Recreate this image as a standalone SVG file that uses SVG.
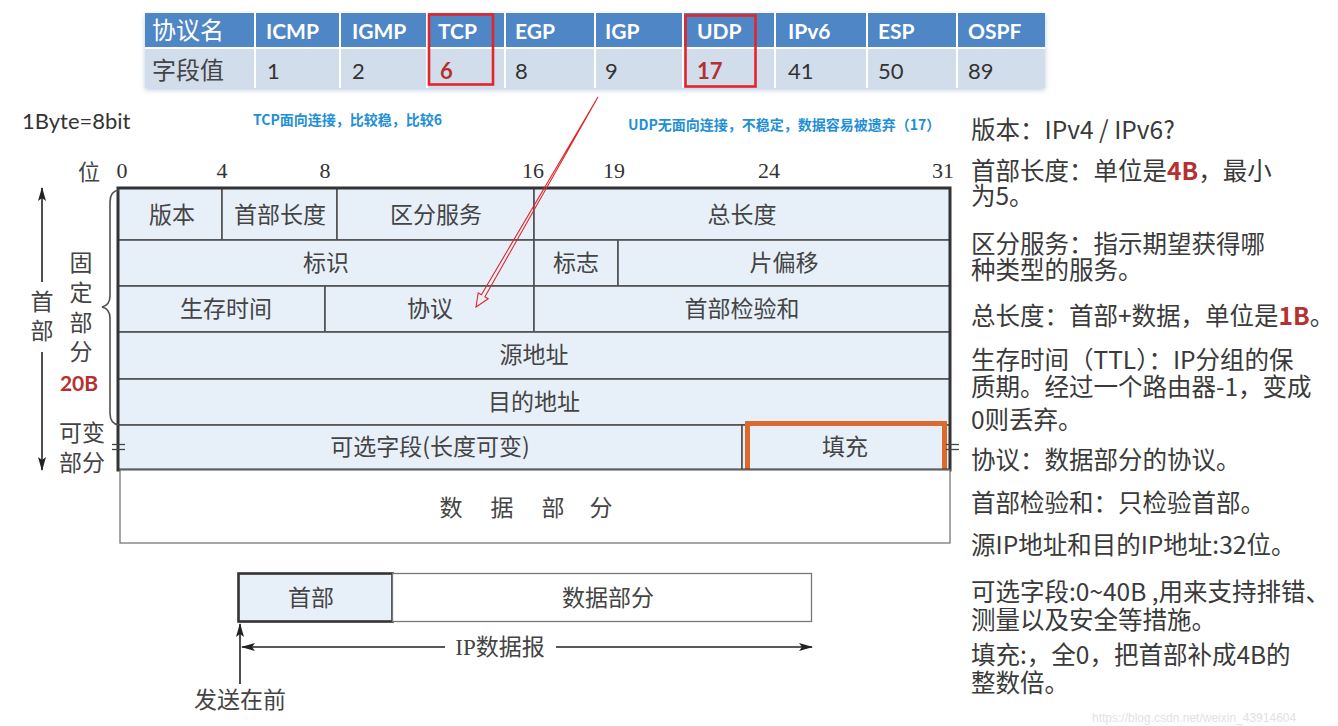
<svg xmlns="http://www.w3.org/2000/svg" width="1338" height="726" viewBox="0 0 1338 726">
<style>
.cjk{font-family:"Noto Sans CJK SC","Noto Sans",sans-serif;}
.cell{font-family:"Noto Sans CJK SC",sans-serif;font-size:23px;fill:#444;text-anchor:middle;}
.num{font-family:"Liberation Serif",serif;font-size:22px;fill:#333;text-anchor:middle;}
.th{font-family:Lato,"Liberation Sans",sans-serif;font-size:21px;font-weight:bold;fill:#fff;}
.td{font-family:Lato,"Liberation Sans",sans-serif;font-size:22px;fill:#333;}
.red{fill:#b5302e;font-weight:bold;}
.note{font-family:"Noto Sans CJK SC",sans-serif;font-size:24.5px;fill:#3a3a3a;}
.blue{font-family:"Noto Sans CJK SC",sans-serif;font-size:14px;font-weight:bold;fill:#1f8fd6;}
.fld{fill:#e7f0f9;stroke:#505050;stroke-width:1.6;}
.ln{stroke:#505050;stroke-width:1.6;fill:none;}
.arr{stroke:#222;stroke-width:1.6;fill:none;}
.lbl{font-family:"Noto Sans CJK SC",sans-serif;font-size:23px;fill:#444;text-anchor:middle;}
</style>
<defs>
<marker id="ah" viewBox="0 0 14 8" refX="13" refY="4" markerWidth="14" markerHeight="8" markerUnits="userSpaceOnUse" orient="auto">
<path d="M0,0 L14,4 L0,8 L3,4 z" fill="#222"/>
</marker>
<filter id="sh" x="-5%" y="-20%" width="110%" height="150%">
<feDropShadow dx="0" dy="2" stdDeviation="2.5" flood-color="#7a9cc8" flood-opacity="0.5"/>
</filter>
</defs>
<rect width="1338" height="726" fill="#fff"/>

<!-- protocol table -->
<g id="proto-table">
<rect x="145" y="13" width="900" height="75" fill="#d2ddec" filter="url(#sh)"/>
<rect x="145" y="13" width="900" height="35" fill="#4f86c6"/>
<g stroke="#fff" stroke-width="2">
<line x1="145" y1="48" x2="1045" y2="48"/>
<line x1="255" y1="13" x2="255" y2="88"/>
<line x1="340" y1="13" x2="340" y2="88"/>
<line x1="427" y1="13" x2="427" y2="88"/>
<line x1="505" y1="13" x2="505" y2="88"/>
<line x1="595" y1="13" x2="595" y2="88"/>
<line x1="683" y1="13" x2="683" y2="88"/>
<line x1="775" y1="13" x2="775" y2="88"/>
<line x1="867" y1="13" x2="867" y2="88"/>
<line x1="957" y1="13" x2="957" y2="88"/>
</g>
<text x="152" y="39" class="cjk" font-size="24" fill="#fff">协议名</text>
<text x="266" y="39" class="th">ICMP</text>
<text x="352" y="39" class="th">IGMP</text>
<text x="438" y="39" class="th">TCP</text>
<text x="515" y="39" class="th">EGP</text>
<text x="605" y="39" class="th">IGP</text>
<text x="697" y="39" class="th">UDP</text>
<text x="788" y="39" class="th">IPv6</text>
<text x="878" y="39" class="th">ESP</text>
<text x="968" y="39" class="th">OSPF</text>
<text x="152" y="79" class="cjk" font-size="24" fill="#444">字段值</text>
<text x="267" y="79" class="td">1</text>
<text x="352" y="79" class="td">2</text>
<text x="440" y="79" class="td red">6</text>
<text x="515" y="79" class="td">8</text>
<text x="605" y="79" class="td">9</text>
<text x="697" y="79" class="td red">17</text>
<text x="788" y="79" class="td">41</text>
<text x="878" y="79" class="td">50</text>
<text x="968" y="79" class="td">89</text>
<rect x="429" y="14.5" width="64" height="70" fill="none" stroke="#e0262b" stroke-width="2.6"/>
<rect x="685.5" y="15.5" width="70" height="71" fill="none" stroke="#e0262b" stroke-width="2.6"/>
</g>

<!-- annotations -->
<g id="annotations">
<text x="22" y="129" font-family="Lato,'Liberation Sans',sans-serif" font-size="22" fill="#333">1Byte=8bit</text>
<text x="253" y="125" class="blue">TCP面向连接，比较稳，比较6</text>
<text x="628" y="130" class="blue">UDP无面向连接，不稳定，数据容易被遗弃（17）</text>
</g>

<!-- bit ruler -->
<g id="bit-ruler">
<text x="89" y="180" class="cjk" font-size="22" fill="#444" text-anchor="middle">位</text>
<text x="122" y="178" class="num">0</text>
<text x="222" y="178" class="num">4</text>
<text x="325" y="178" class="num">8</text>
<text x="533" y="178" class="num">16</text>
<text x="614" y="178" class="num">19</text>
<text x="769" y="178" class="num">24</text>
<text x="943" y="178" class="num">31</text>
</g>

<!-- header fields -->
<g id="field-version"><rect x="118" y="188" width="104" height="52" class="fld"/><text x="172" y="223" class="cell">版本</text></g>
<g id="field-ihl"><rect x="222" y="188" width="115" height="52" class="fld"/><text x="280" y="223" class="cell">首部长度</text></g>
<g id="field-ds"><rect x="337" y="188" width="197" height="52" class="fld"/><text x="436" y="223" class="cell">区分服务</text></g>
<g id="field-total-length"><rect x="534" y="188" width="416" height="52" class="fld"/><text x="742" y="223" class="cell">总长度</text></g>
<g id="field-id"><rect x="118" y="240" width="416" height="46" class="fld"/><text x="326" y="271" class="cell">标识</text></g>
<g id="field-flags"><rect x="534" y="240" width="84" height="46" class="fld"/><text x="576" y="271" class="cell">标志</text></g>
<g id="field-offset"><rect x="618" y="240" width="332" height="46" class="fld"/><text x="784" y="271" class="cell">片偏移</text></g>
<g id="field-ttl"><rect x="118" y="286" width="207" height="46" class="fld"/><text x="226" y="317" class="cell">生存时间</text></g>
<g id="field-protocol"><rect x="325" y="286" width="209" height="46" class="fld"/><text x="430" y="317" class="cell">协议</text></g>
<g id="field-checksum"><rect x="534" y="286" width="416" height="46" class="fld"/><text x="742" y="317" class="cell">首部检验和</text></g>
<g id="field-src"><rect x="118" y="332" width="832" height="47" class="fld"/><text x="534" y="363" class="cell">源地址</text></g>
<g id="field-dst"><rect x="118" y="379" width="832" height="46" class="fld"/><text x="534" y="410" class="cell">目的地址</text></g>
<g id="field-options"><rect x="118" y="425" width="624" height="45" class="fld"/><text x="430" y="455" class="cell">可选字段(长度可变)</text></g>
<g id="field-padding"><rect x="742" y="425" width="208" height="45" class="fld"/><text x="845" y="455" class="cell">填充</text>
<rect x="747.5" y="423.5" width="197" height="52" fill="none" stroke="#dc6a2c" stroke-width="5"/></g>
<g id="header-border"><rect x="118" y="188" width="832" height="282" fill="none" stroke="#333" stroke-width="3"/>
<g stroke="#444" stroke-width="1.3"><line x1="112" y1="444.5" x2="125" y2="444.5"/><line x1="112" y1="449.5" x2="125" y2="449.5"/><line x1="946" y1="444.5" x2="959" y2="444.5"/><line x1="946" y1="449.5" x2="959" y2="449.5"/></g></g>
<g id="data-part"><rect x="120" y="470" width="830" height="73" fill="#fff" stroke="#777" stroke-width="1.3"/>
<text y="516" class="cell" font-size="22"><tspan x="451">数</tspan><tspan x="502">据</tspan><tspan x="553">部</tspan><tspan x="601">分</tspan></text></g>

<!-- left labels -->
<g id="left-labels">
<path d="M119,190 Q110,191 110,202 L110,296 Q110,305 102,307 Q110,309 110,318 L110,413 Q110,424 119,425" class="ln"/>
<text class="lbl"><tspan x="42" y="310">首</tspan><tspan x="42" y="339">部</tspan></text>
<text class="lbl"><tspan x="81" y="271">固</tspan><tspan x="81" y="301">定</tspan><tspan x="81" y="331">部</tspan><tspan x="81" y="360">分</tspan></text>
<text x="79" y="391" font-family="Lato,'Liberation Sans',sans-serif" font-size="21" font-weight="bold" fill="#b5302e" text-anchor="middle">20B</text>
<text class="lbl"><tspan x="82" y="441">可变</tspan><tspan x="82" y="471">部分</tspan></text>
</g>

<!-- datagram overview -->
<g id="dgram-header"><rect x="238.5" y="573.5" width="154" height="48" fill="#e7f0f9" stroke="#333" stroke-width="2.6"/><text x="311" y="606" class="cell">首部</text></g>
<g id="dgram-data"><rect x="392.5" y="573.5" width="419" height="48" fill="#fff" stroke="#777" stroke-width="1.3"/><text x="608" y="606" class="cell">数据部分</text></g>
<g id="dgram-label"><text x="500" y="655" font-family="'Liberation Serif','Noto Sans CJK SC',serif" font-size="23" fill="#444" text-anchor="middle">IP<tspan font-family="'Noto Sans CJK SC',sans-serif">数据报</tspan></text></g>
<g id="send-first"><text x="240" y="708" class="cjk" font-size="23" fill="#444" text-anchor="middle">发送在前</text></g>

<!-- connectors -->
<g id="connectors">
<line x1="42" y1="282" x2="42" y2="188" class="arr" marker-end="url(#ah)"/>
<line x1="42" y1="352" x2="42" y2="470" class="arr" marker-end="url(#ah)"/>
<line x1="445" y1="647" x2="242" y2="647" class="arr" marker-end="url(#ah)"/>
<line x1="556" y1="647" x2="812" y2="647" class="arr" marker-end="url(#ah)"/>
<line x1="240" y1="684" x2="240" y2="624" class="arr" marker-end="url(#ah)"/>
<polygon points="598,97 484.9,296.8 488.2,298.7 476,307 478.2,292.8 481.4,294.8" fill="none" stroke="#e0262b" stroke-width="1.1" stroke-linejoin="miter"/>
</g>

<!-- right notes -->
<g id="notes">
<text x="971" y="139" class="note">版本：IPv4 / IPv6?</text>
<text class="note"><tspan x="971" y="180">首部长度：单位是<tspan class="red">4B</tspan>，最小</tspan><tspan x="971" y="205">为5。</tspan></text>
<text class="note"><tspan x="971" y="253">区分服务：指示期望获得哪</tspan><tspan x="971" y="279">种类型的服务。</tspan></text>
<text x="971" y="325" class="note">总长度：首部+数据，单位是<tspan class="red">1B</tspan>。</text>
<text class="note"><tspan x="971" y="369">生存时间（TTL）：IP分组的保</tspan><tspan x="971" y="396">质期。经过一个路由器-1，变成</tspan><tspan x="971" y="429">0则丢弃。</tspan></text>
<text x="971" y="469" class="note">协议：数据部分的协议。</text>
<text x="971" y="512" class="note">首部检验和：只检验首部。</text>
<text x="971" y="554" class="note">源IP地址和目的IP地址:32位。</text>
<text class="note"><tspan x="971" y="601">可选字段:0~40B ,用来支持排错、</tspan><tspan x="971" y="629">测量以及安全等措施。</tspan></text>
<text class="note"><tspan x="971" y="664">填充:，全0，把首部补成4B的</tspan><tspan x="971" y="692">整数倍。</tspan></text>
<text x="1092" y="722" font-family="'Liberation Sans',sans-serif" font-size="12" fill="#e2e2e2">https://blog.csdn.net/weixin_43914604</text>
</g>
</svg>
